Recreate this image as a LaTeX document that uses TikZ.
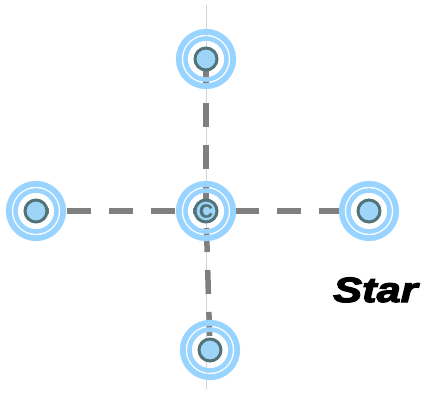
\documentclass[tikz,border=0pt]{standalone}
\usepackage{fontspec}
\setmainfont{Liberation Sans}
\newfontfamily\starfont[FakeBold=3.5,FakeStretch=1.24]{Liberation Sans Bold Italic}
\newfontfamily\hubfont[FakeBold=1]{Liberation Sans Bold}
\definecolor{ringblue}{HTML}{99D3FF}
\definecolor{hubfill}{HTML}{9ED4F8}
\definecolor{hubedge}{HTML}{527378}
\definecolor{dashgray}{HTML}{7F7F7F}
\definecolor{thinline}{HTML}{C6D6DF}
\tikzset{
  dashline/.style={draw=dashgray, line width=5.5pt, dash pattern=on 24pt off 18pt},
  outerring/.style={draw=ringblue, line width=5.8pt},
  innerring/.style={draw=ringblue, line width=4.6pt},
  hub/.style={circle, draw=hubedge, fill=hubfill, line width=3pt, minimum size=22pt, inner sep=0pt, text=hubedge},
  hubtext/.style={font=\hubfont\fontsize{19}{19}\selectfont},
  startext/.style={font=\starfont\fontsize{35}{35}\selectfont, text=black, inner sep=0pt},
  guide/.style={draw=thinline, line width=1pt}
}
\begin{document}
\begin{tikzpicture}[x=1pt, y=-1pt]
\useasboundingbox (0,0) rectangle (425,395);
\coordinate (T) at (206,59);
\coordinate (L) at (36,211);
\coordinate (C) at (206,211);
\coordinate (R) at (369,211);
\coordinate (B) at (210,350);
\coordinate (gtop) at (206,5);
\coordinate (gbot) at (206,389);
% thin guide line
\draw[guide] (gtop) -- (gbot);
% dashed connectors
\draw[dashline, dash phase=11pt] (L) -- (R);
\draw[dashline, dash phase=40pt] (T) -- (C);
\draw[dashline, dash phase=25pt] (C) -- (B);
% rings
\foreach \n in {T,L,C,R,B}{
  \draw[outerring] (\n) circle[radius=27.2];
  \draw[innerring] (\n) circle[radius=20.5];
}
% hubs
\node[hub] (Tn) at (T) {};
\node[hub] (Ln) at (L) {};
\node[hub, hubtext] (Cn) at (C) {C};
\node[hub] (Rn) at (R) {};
\node[hub] (Bn) at (B) {};
% label
\node[startext, anchor=base west] (lbl) at (333,302) {Star};
\end{tikzpicture}
\end{document}
